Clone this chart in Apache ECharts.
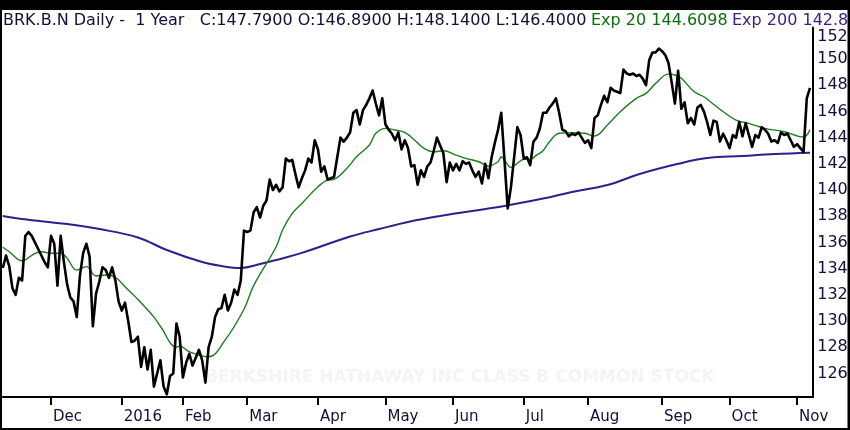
<!DOCTYPE html>
<html>
<head>
<meta charset="utf-8">
<script src="https://cdn.jsdelivr.net/npm/echarts@6/dist/echarts.min.js"></script>
<style>
  html, body { margin: 0; padding: 0; background: #fff; }
  #chart { width: 850px; height: 430px; }
</style>
</head>
<body>
<div id="chart"></div>
<script>
// daily closes, one per trading day (Nov 2015 - Nov 2016)
var closes = [
  134.05,135.0,134.2,132.5,132.0,133.3,133.1,136.5,136.8,136.5,
  136.0,135.5,135.0,134.5,134.1,136.5,135.9,132.7,136.5,134.5,
  132.8,131.8,131.5,130.3,133.5,135.2,135.9,134.9,129.6,132.1,
  133.0,134.1,133.9,133.3,134.1,133.1,131.5,130.8,131.4,130.0,
  128.4,128.5,128.8,126.5,128.0,126.3,127.8,125.0,126.0,127.0,
  125.0,124.4,125.8,126.0,129.8,128.8,125.7,126.8,127.5,126.6,
  127.2,127.8,127.0,125.3,128.0,128.8,130.3,130.9,131.0,132.0,
  130.8,131.4,132.4,132.0,133.1,136.9,136.8,136.9,138.3,138.7,
  137.9,138.8,139.2,140.8,140.0,140.4,139.9,140.2,142.4,142.2,
  142.3,141.2,140.2,140.9,141.5,142.4,142.1,143.8,143.1,141.4,
  141.8,140.8,140.9,141.0,142.5,144.0,143.7,144.0,144.4,145.9,
  146.1,145.0,146.1,146.5,147.0,147.6,146.6,145.7,147.0,145.0,
  144.6,144.3,143.8,144.4,143.1,143.8,143.2,141.8,141.9,140.4,
  141.5,141.0,141.8,142.1,143.0,144.0,143.4,142.8,140.6,142.1,
  141.5,142.0,141.5,142.2,142.0,142.1,141.5,141.0,141.4,140.5,
  142.0,140.9,142.5,143.6,144.6,145.9,142.3,138.6,140.2,142.5,
  144.8,144.2,142.4,142.5,141.9,143.7,144.0,144.7,145.9,145.9,
  146.3,146.6,147.0,145.9,144.6,144.5,144.1,144.3,144.2,144.4,
  144.0,143.6,143.8,143.2,145.5,145.7,146.5,147.2,146.7,147.8,
  147.6,147.5,147.4,149.2,148.9,148.8,148.9,148.7,148.8,148.5,
  148.0,149.9,150.5,150.5,150.8,150.6,150.3,149.7,148.2,146.6,
  149.1,146.2,146.7,145.1,145.5,145.0,146.3,146.5,146.0,145.2,
  144.2,145.3,145.2,143.7,144.3,143.8,143.2,144.2,144.0,145.2,
  144.1,145.1,144.2,143.3,144.2,144.0,144.8,144.6,144.3,143.7,
  143.8,143.6,144.4,144.2,144.3,143.8,143.3,143.5,143.2,142.9,
  147.0,147.79
];

// Exp 20: [day index, value]
var exp20 = [
  [0,135.63],[2,135.29],[6,134.6],[10,135.17],[12,135.29],[15,135.17],[18,135.17],
  [20,134.79],[23,133.89],[26,134.15],[29,133.44],[32,133.51],[35,133.34],[38,132.62],
  [41,131.9],[47,130.3],[49,129.6],[54,128.0],[55,128.1],[58,127.66],[64,127.27],
  [69,128.5],[75,130.9],[78,132.7],[85,135.67],[87,136.95],[90,138.22],[93,138.98],
  [98,140.25],[101,140.76],[103,140.82],[107,141.66],[110,142.54],[114,143.44],
  [116,144.33],[119,144.71],[122,144.58],[125,144.4],[128,143.82],[131,143.18],
  [134,142.92],[137,143.0],[141,142.67],[144,142.42],[148,142.16],[151,141.83],
  [154,142.16],[155,142.54],[156,142.29],[158,141.73],[160,142.04],[162,142.34],
  [164,142.34],[166,142.67],[168,143.0],[170,143.69],[173,144.33],[177,144.38],
  [181,144.33],[184,144.12],[188,144.96],[192,145.98],[197,147.0],[200,147.38],
  [203,148.14],[207,148.85],[209,148.78],[211,148.53],[215,147.5],[218,147.12],
  [222,146.36],[228,145.34],[232,145.09],[237,144.71],[243,144.45],[249,144.05],
  [251,144.61]
];

// Exp 200: [day index, value]
var exp200 = [
  [0,138.02],[6,137.79],[20,137.4],[30,137.02],[42,136.38],[51,135.42],[62,134.5],
  [68,134.2],[74,134.05],[80,134.35],[85,134.66],[93,135.2],[108,136.45],[117,137.02],
  [126,137.56],[136,138.02],[146,138.4],[156,138.78],[168,139.35],[177,139.85],
  [188,140.38],[198,141.22],[210,142.0],[219,142.44],[230,142.6],[240,142.75],
  [251,142.85]
];

// month ticks: day index and label
var monthIdx = [15, 37, 56, 76, 98, 119, 140, 162, 182, 205, 226, 247];
var monthLabels = ['Dec', '2016', 'Feb', 'Mar', 'Apr', 'May', 'Jun', 'Jul', 'Aug', 'Sep', 'Oct', 'Nov'];

// price tick labels on the right axis
var priceTicks = [126, 128, 130, 132, 134, 136, 138, 140, 142, 144, 146, 148, 150, 152];

var days = [];
for (var i = 0; i <= closes.length; i++) {   // one spare slot at the right edge
  days.push(String(i));
}

var txt = '#10103a';
var font = 'DejaVu Sans';

var chart = echarts.init(document.getElementById('chart'));
chart.setOption({
  animation: false,
  backgroundColor: '#fff',
  grid: {
    left: 2.8, right: 36.8, top: 27.6, bottom: 33,
    containLabel: false, outerBoundsMode: 'none'
  },
  xAxis: {
    type: 'category',
    data: days,
    boundaryGap: false,
    axisLine: { show: true, lineStyle: { color: '#000', width: 2 } },
    axisTick: {
      show: true, length: 8, inside: false,
      lineStyle: { color: '#000', width: 2 },
      interval: function (idx) { return monthIdx.indexOf(idx) >= 0; }
    },
    axisLabel: {
      show: true,
      interval: function (idx) { return monthIdx.indexOf(idx) >= 0; },
      formatter: function (v, idx) {
        var k = monthIdx.indexOf(idx);
        return k >= 0 ? monthLabels[k] : '';
      },
      align: 'left',
      padding: [0, 0, 0, 2],
      margin: 13,
      color: txt,
      fontFamily: font,
      fontSize: 15
    },
    splitLine: { show: false }
  },
  yAxis: {
    type: 'value',
    position: 'right',
    min: 124.2,
    max: 152.4,
    axisLine: { show: true, lineStyle: { color: '#000', width: 2 } },
    axisTick: { show: false },
    splitLine: { show: false },
    axisLabel: {
      customValues: priceTicks,
      margin: 4,
      color: txt,
      fontFamily: font,
      fontSize: 16,
      // top label sits a little lower in the original so it is not clipped
      formatter: function (v) { return v === 152 ? '{top|152}' : String(v); },
      rich: {
        top: { padding: [9, 0, 0, 0], color: txt, fontFamily: font, fontSize: 16 }
      }
    }
  },
  graphic: [
    { type: 'rect', shape: { x: 0, y: 0, width: 850, height: 10 }, style: { fill: '#000' } },
    { type: 'rect', shape: { x: 0, y: 0, width: 2, height: 430 }, style: { fill: '#000' } },
    { type: 'rect', shape: { x: 847.5, y: 0, width: 2.5, height: 430 }, style: { fill: '#000' } },
    { type: 'rect', shape: { x: 0, y: 428, width: 850, height: 2 }, style: { fill: '#000' } },
    {
      type: 'text', left: 205, top: 369, z: -1,
      style: { text: 'BERKSHIRE HATHAWAY INC CLASS B COMMON STOCK', fill: '#f4f4f4',
               font: 'bold 17px "DejaVu Sans"' }
    },
    {
      type: 'text', x: 3, y: 21,
      style: { text: 'BRK.B.N Daily -  1 Year   C:147.7900 O:146.8900 H:148.1400 L:146.4000',
               fill: txt, font: '16px "DejaVu Sans"', textVerticalAlign: 'middle' }
    },
    {
      type: 'text', x: 591, y: 21,
      style: { text: 'Exp 20 144.6098', fill: '#0b6e0b', font: '16px "DejaVu Sans"', textVerticalAlign: 'middle' }
    },
    {
      type: 'text', x: 732, y: 21,
      style: { text: 'Exp 200 142.8', fill: '#3a1c8c', font: '16px "DejaVu Sans"', textVerticalAlign: 'middle' }
    }
  ],
  series: [
    {
      name: 'Exp 200', type: 'line', data: exp200, smooth: 0.4,
      showSymbol: false, z: 2,
      lineStyle: { color: '#2e1f8f', width: 2 }
    },
    {
      name: 'Exp 20', type: 'line', data: exp20, smooth: 0.4,
      showSymbol: false, z: 3,
      lineStyle: { color: '#1e7d1e', width: 1.4 }
    },
    {
      name: 'BRK.B.N', type: 'line', data: closes,
      showSymbol: false, z: 4,
      lineStyle: { color: '#000', width: 2.6, join: 'round' }
    }
  ]
});
</script>
</body>
</html>
